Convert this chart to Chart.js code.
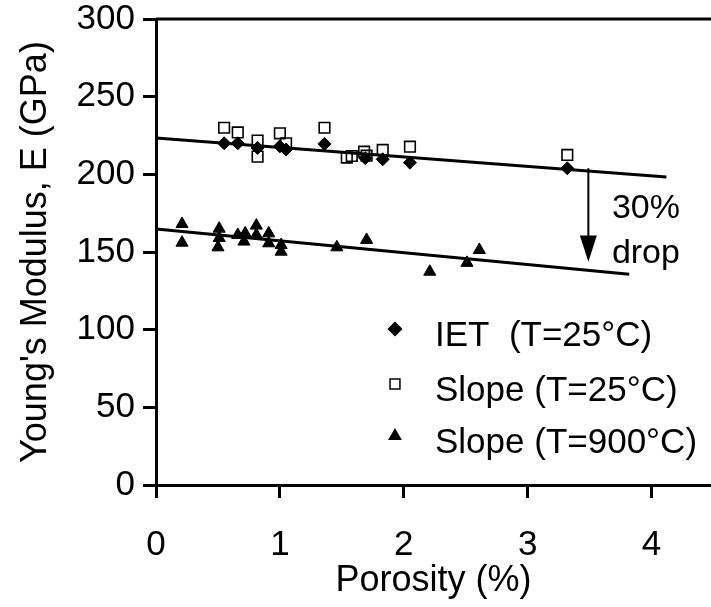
<!DOCTYPE html>
<html>
<head>
<meta charset="utf-8">
<script src="https://cdn.jsdelivr.net/npm/chart.js@4"></script>
<style>
  html, body { margin: 0; padding: 0; background: #fff; }
  #wrap { width: 711px; height: 607px; }
</style>
</head>
<body>
<div id="wrap"><canvas id="chart"></canvas></div>
<script>
// values
const ietPorosity = [0.55, 0.66, 0.82, 1.00, 1.05, 1.36, 1.69, 1.83, 2.05, 3.32];
const ietModulus  = [220, 220, 217, 218, 216, 219.6, 210.4, 209.7, 207.5, 203.9];

const slope25Porosity = [0.55, 0.66, 0.82, 0.82, 1.00, 1.05, 1.36, 1.54, 1.58, 1.68, 1.70, 1.83, 2.05, 3.32];
const slope25Modulus  = [230, 227, 221.7, 211.4, 226.4, 220, 230, 210.8, 211.8, 214.6, 212, 215.7, 217.8, 212.5];

const slope900Porosity = [0.21, 0.21, 0.51, 0.51, 0.50, 0.66, 0.72, 0.71, 0.81, 0.81, 0.91, 0.91, 1.01, 1.01, 1.46, 1.70, 2.21, 2.51, 2.61];
const slope900Modulus  = [168, 156, 165, 159, 153, 161, 162, 156.7, 167, 161, 162, 155.6, 154.5, 150.2, 153, 157.8, 137.3, 143, 151.3];

const fit25X = [0, 4.12];
const fit25Y = [223.4, 198.3];
const fit900X = [0, 3.82];
const fit900Y = [164.8, 135.6];

const arrowX = [3.49, 3.49];
const arrowY = [203.9, 158];
const arrowTip = 143.8;

const legendLabels = ['IET  (T=25°C)', 'Slope (T=25°C)', 'Slope (T=900°C)'];
const dropText = ['30%', 'drop'];
const dropTextX = 3.68;
const dropTextY = [178, 148.7];

const xTitle = 'Porosity (%)';
const yTitle = "Young's Modulus, E (GPa)";

const FONT = "'Liberation Sans', Arial, Helvetica, sans-serif";

function pts(xs, ys) {
    return xs.map((x, i) => ({ x: x, y: ys[i] }));
}

const extras = {
    id: 'extras',
    beforeDatasetsDraw: function(chart) {
        const ctx = chart.ctx;
        const a = chart.chartArea;
        ctx.save();
        ctx.strokeStyle = '#000';
        ctx.lineWidth = 3;
        ctx.beginPath();
        ctx.moveTo(a.left, a.top);
        ctx.lineTo(a.right, a.top);
        ctx.stroke();
        ctx.restore();
    },
    afterDatasetsDraw: function(chart) {
        const ctx = chart.ctx;
        const xs = chart.scales.x, ys = chart.scales.y;
        const a = chart.chartArea;
        ctx.save();

        // arrow head
        const ax = xs.getPixelForValue(arrowX[1]);
        const tipY = ys.getPixelForValue(arrowTip);
        const baseY = ys.getPixelForValue(arrowY[1]) - 4;
        ctx.fillStyle = '#000';
        ctx.beginPath();
        ctx.moveTo(ax, tipY);
        ctx.lineTo(ax - 8.5, baseY);
        ctx.lineTo(ax + 8.5, baseY);
        ctx.closePath();
        ctx.fill();

        // "30% drop" note
        ctx.font = '34px ' + FONT;
        ctx.textAlign = 'left';
        ctx.textBaseline = 'middle';
        dropText.forEach((t, i) => {
            ctx.fillText(t, xs.getPixelForValue(dropTextX), ys.getPixelForValue(dropTextY[i]));
        });

        // legend inside the plot
        const styles = [
            { pointStyle: 'rectRot', radius: 6.5, fill: '#000' },
            { pointStyle: 'rect', radius: 7, fill: '#fff' },
            { pointStyle: 'triangle', radius: 6.5, fill: '#000' }
        ];
        const markX = a.left + 239;
        const textX = a.left + 279;
        const rowY = [a.top + 314, a.top + 369, a.top + 421];
        ctx.font = '35px ' + FONT;
        ctx.textBaseline = 'alphabetic';
        legendLabels.forEach((label, i) => {
            ctx.fillStyle = styles[i].fill;
            ctx.strokeStyle = '#000';
            ctx.lineWidth = 1.5;
            Chart.helpers.drawPoint(ctx, {
                pointStyle: styles[i].pointStyle,
                radius: styles[i].radius,
                rotation: 0,
                borderWidth: 1.5
            }, markX, rowY[i] - 4);
            ctx.fillStyle = '#000';
            ctx.fillText(label, textX, rowY[i] + 12.5);
        });
        ctx.restore();
    }
};

new Chart(document.getElementById('chart').getContext('2d'), {
    type: 'scatter',
    data: {
        datasets: [
            {
                label: legendLabels[0],
                data: pts(ietPorosity, ietModulus),
                pointStyle: 'rectRot',
                pointRadius: 6.5,
                backgroundColor: '#000',
                borderColor: '#000',
                borderWidth: 1,
                order: 2
            },
            {
                label: legendLabels[1],
                data: pts(slope25Porosity, slope25Modulus),
                pointStyle: 'rect',
                pointRadius: 7.5,
                backgroundColor: 'rgba(255,255,255,0)',
                borderColor: '#000',
                borderWidth: 1.6,
                order: 1
            },
            {
                label: legendLabels[2],
                data: pts(slope900Porosity, slope900Modulus),
                pointStyle: 'triangle',
                pointRadius: 7,
                backgroundColor: '#000',
                borderColor: '#000',
                borderWidth: 1,
                order: 3
            },
            {
                label: 'fit25',
                data: pts(fit25X, fit25Y),
                showLine: true,
                borderColor: '#000',
                borderWidth: 3,
                pointRadius: 0,
                order: 5
            },
            {
                label: 'fit900',
                data: pts(fit900X, fit900Y),
                showLine: true,
                borderColor: '#000',
                borderWidth: 3,
                pointRadius: 0,
                order: 5
            },
            {
                label: 'arrow',
                data: pts(arrowX, arrowY),
                showLine: true,
                borderColor: '#000',
                borderWidth: 2,
                pointRadius: 0,
                order: 6
            }
        ]
    },
    options: {
        responsive: true,
        maintainAspectRatio: false,
        animation: false,
        layout: {
            autoPadding: false,
            padding: { top: 19, right: 0, left: 0, bottom: 0 }
        },
        plugins: {
            legend: { display: false },
            tooltip: { enabled: false }
        },
        scales: {
            x: {
                type: 'linear',
                min: 0,
                max: 4.48,
                afterFit: function(scale) {
                    scale.height = 122;
                    scale.paddingLeft = 0;
                    scale.paddingRight = 0;
                },
                ticks: {
                    stepSize: 1,
                    includeBounds: false,
                    color: '#000',
                    padding: 26,
                    font: { family: FONT, size: 35 }
                },
                grid: {
                    drawOnChartArea: false,
                    drawTicks: true,
                    tickLength: 13,
                    tickWidth: 3,
                    color: '#000'
                },
                border: { display: true, color: '#000', width: 3 },
                title: {
                    display: true,
                    text: xTitle,
                    color: '#000',
                    padding: { top: 0, bottom: 4 },
                    font: { family: FONT, size: 36 }
                }
            },
            y: {
                type: 'linear',
                min: 0,
                max: 300,
                afterFit: function(scale) {
                    scale.width = 156;
                    scale.paddingTop = 0;
                    scale.paddingBottom = 0;
                },
                ticks: {
                    stepSize: 50,
                    color: '#000',
                    padding: 8,
                    font: { family: FONT, size: 35 }
                },
                grid: {
                    drawOnChartArea: false,
                    drawTicks: true,
                    tickLength: 13,
                    tickWidth: 3,
                    color: '#000'
                },
                border: { display: true, color: '#000', width: 3 },
                title: {
                    display: true,
                    text: yTitle,
                    color: '#000',
                    padding: { top: 14, bottom: 0 },
                    font: { family: FONT, size: 36 }
                }
            }
        }
    },
    plugins: [extras]
});
</script>
</body>
</html>
